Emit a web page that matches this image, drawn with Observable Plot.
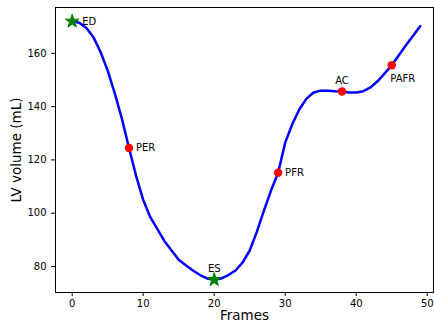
<!DOCTYPE html>
<html>
<head>
<meta charset="utf-8">
<script src="https://cdn.jsdelivr.net/npm/d3@7"></script>
<script src="https://cdn.jsdelivr.net/npm/@observablehq/plot@0.6"></script>
<style>
  html, body { margin: 0; padding: 0; background: #fff; }
  svg { display: block; }
</style>
</head>
<body>
<div id="chart"></div>
<script>
// LV volume per frame (frames 0..49)
const frames = d3.range(0, 50);
const volume = [
  172, 171.5, 169.5, 166, 160.5, 153.5, 145, 135.5, 124.5, 114,
  105, 98.5, 94, 89.5, 86, 82.5, 80.5, 78.5, 76.8, 75.5,
  75, 75.5, 76.8, 78.5, 81.5, 86, 93, 101, 108.5, 115.2,
  126.5, 133.5, 139, 143, 145.3, 146, 146, 145.8, 145.7, 145.3,
  145.3, 145.8, 147.2, 149.5, 152.5, 155.5, 159.3, 163, 166.6, 170.2
];
// key events
const starLabels = ["ED", "ES"];
const starFrames = [0, 20];
const dotLabels = ["PER", "PFR", "AC", "PAFR"];
const dotFrames = [8, 29, 38, 45];
const xTicks = [0, 10, 20, 30, 40, 50];
const yTicks = [80, 100, 120, 140, 160];

const curve = frames.map((f, i) => ({f, v: volume[i]}));
const stars = starFrames.map((f, i) => ({f, v: volume[f], label: starLabels[i]}));
const dots = dotFrames.map((f, i) => ({f, v: volume[f], label: dotLabels[i]}));

const font = "DejaVu Sans, sans-serif";
const txt = (data, opts) => Plot.text(data, {x: "f", y: "v", text: "label", fontSize: 10, fill: "#000", fontFamily: font, ...opts});

const chart = Plot.plot({
  width: 434,
  height: 323,
  marginLeft: 55,
  marginRight: 1,
  marginTop: 7,
  marginBottom: 31,
  style: {fontFamily: font, fontSize: "10px", color: "#000", background: "#fff"},
  x: {domain: [-2.35, 50.88]},
  y: {domain: [70.24, 177.2]},
  marks: [
    Plot.frame({stroke: "#000", strokeWidth: 1}),
    Plot.axisX({ticks: xTicks, tickSize: 4, tickPadding: 3, fontSize: 10, label: "Frames", labelAnchor: "center", labelArrow: "none", labelOffset: 27, fontFamily: font}),
    Plot.axisY({ticks: yTicks, tickSize: 4, tickPadding: 5, fontSize: 10, label: "LV volume (mL)", labelAnchor: "center", labelArrow: "none", labelOffset: 44, fontFamily: font}),
    Plot.line(curve, {x: "f", y: "v", stroke: "#0000ff", strokeWidth: 2.5}),
    Plot.dot(dots, {x: "f", y: "v", r: 4.2, fill: "#ff0000", stroke: "none"}),
    Plot.dot(stars, {x: "f", y: "v", symbol: "star", r: 4.3, fill: "#008000", stroke: "#008000", strokeWidth: 1}),
    txt(stars.filter(d => d.label === "ED"), {dx: 10, textAnchor: "start"}),
    txt(stars.filter(d => d.label === "ES"), {dy: -11}),
    txt(dots.filter(d => d.label === "PER" || d.label === "PFR"), {dx: 7, textAnchor: "start"}),
    txt(dots.filter(d => d.label === "AC"), {dy: -11}),
    txt(dots.filter(d => d.label === "PAFR"), {dx: 11, dy: 13})
  ]
});
// enlarge axis titles
d3.select(chart).selectAll("g[aria-label='x-axis label'] text, g[aria-label='y-axis label'] text").style("font-size", "13.5px");
document.getElementById("chart").appendChild(chart);
</script>
</body>
</html>
